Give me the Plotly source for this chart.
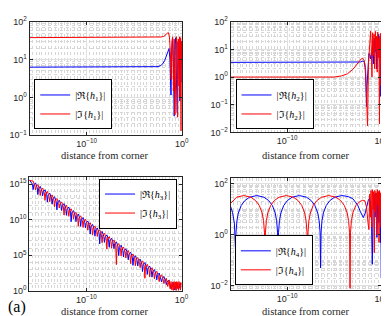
import plotly.graph_objects as go

# ---------------- data ----------------
# x values are log10(distance from corner); y values are magnitudes
h1_re_x = [-16, -3.0, -2.5, -2.2, -2.0, -1.8, -1.6, -1.45, -1.34, -1.25, -1.14, -1.05, -0.97, -0.88, -0.8,
           -0.72, -0.64, -0.56, -0.48, -0.4, -0.33, -0.26, -0.2, -0.14, -0.08, -0.03, 0]
h1_re_y = [6.3, 6.3, 6.5, 7.0, 7.8, 9.5, 13, 17, 19.5, 10, 1.15, 20, 35, 8, 0.32,
           25, 38, 3, 0.4, 30, 6, 32, 0.8, 28, 2.5, 30, 15]
h1_im_x = [-16, -3.0, -2.6, -2.2, -1.9, -1.65, -1.5, -1.42, -1.3, -1.2, -1.12, -1.04, -0.96, -0.88, -0.8,
           -0.72, -0.64, -0.56, -0.5, -0.44, -0.37, -0.3, -0.24, -0.18, -0.12, -0.08, -0.04, 0]
h1_im_y = [38, 38, 38.5, 39.5, 41, 45, 50, 52, 40, 15, 3, 30, 40, 1.5, 35,
           0.35, 28, 40, 5, 0.3, 35, 2, 40, 1, 38, 0.13, 30, 8]

h2_re_x = [-16, -2.5, -2.2, -2.0, -1.9, -1.8, -1.7, -1.62, -1.56, -1.5, -1.4, -1.3, -1.2, -1.12, -1.05,
           -0.98, -0.9, -0.82, -0.74, -0.66, -0.58, -0.5, -0.42, -0.34, -0.26, -0.18, -0.1, -0.05, 0]
h2_re_y = [3.4, 3.4, 3.5, 3.7, 3.8, 3.5, 2.2, 0.6, 0.085, 0.5, 3.5, 7, 6, 4.5, 7,
           5, 20, 3, 25, 8, 30, 2, 28, 10, 35, 5, 20, 0.2, 3]
h2_im_x = [-16, -5.0, -4.2, -3.6, -3.0, -2.6, -2.3, -2.1, -1.95, -1.8, -1.65, -1.52, -1.45, -1.35, -1.22,
           -1.12, -1.05, -0.98, -0.9, -0.83, -0.76, -0.69, -0.62, -0.55, -0.48, -0.42, -0.36, -0.3,
           -0.24, -0.18, -0.14, -0.1, -0.06, -0.02, 0]
h2_im_y = [1.0, 1.0, 1.1, 1.3, 1.9, 2.8, 3.8, 4.6, 4.8, 4.0, 1.8, 0.2, 0.017, 3, 30,
           46, 12, 1, 40, 6, 35, 2, 45, 10, 30, 1.5, 42, 5,
           25, 0.02, 30, 3, 38, 0.5, 20]

# h3: y stored as log10 of the magnitude
h3_re_x = [-16,
           -15.67, -15.6, -15.53, -15.35, -15.17, -15.1, -15.03, -14.85, -14.67, -14.6, -14.53, -14.35,
           -14.17, -14.1, -14.03, -13.85, -13.67, -13.6, -13.53, -13.35, -13.17, -13.1, -13.03, -12.85,
           -12.67, -12.6, -12.53, -12.35, -12.17, -12.1, -12.03, -11.85, -11.67, -11.6, -11.53, -11.35,
           -11.17, -11.1, -11.03, -10.85, -10.67, -10.6, -10.53, -10.35, -10.17, -10.1, -10.03, -9.85,
           -9.67, -9.6, -9.53, -9.35, -9.17, -9.1, -9.03, -8.85, -8.67, -8.6, -8.53, -8.35,
           -8.17, -8.1, -8.03, -7.85, -7.67, -7.6, -7.53, -7.35, -7.17, -7.1, -7.03, -6.85,
           -6.67, -6.6, -6.53, -6.35, -6.17, -6.1, -6.03, -5.85, -5.67, -5.6, -5.53, -5.35,
           -5.17, -5.1, -5.03, -4.85, -4.67, -4.6, -4.53, -4.35, -4.17, -4.1, -4.03, -3.85,
           -3.67, -3.6, -3.53, -3.35, -3.17, -3.1, -3.03, -2.85, -2.67, -2.6, -2.53, -2.35,
           -2.17, -2.1, -2.03, -1.85, -1.67, -1.6, -1.53, -1.35,
           -1.1, -0.9, -0.7, -0.5, -0.3, -0.15, 0]
h3_re_logy = [15.6,
              14.96, 14.21, 14.86, 15.17, 14.47, 13.52, 14.37, 14.68, 13.99, 13.34, 13.89, 14.20,
              13.50, 12.45, 13.40, 13.71, 13.01, 12.16, 12.91, 13.22, 12.52, 11.37, 12.42, 12.73,
              12.04, 11.29, 11.94, 12.25, 11.55, 10.60, 11.45, 11.76, 11.06, 9.71, 10.96, 11.27,
              10.57, 9.72, 10.47, 10.78, 10.09, 9.04, 9.99, 10.30, 9.60, 8.85, 9.50, 9.81,
              9.11, 7.96, 9.01, 9.32, 8.62, 7.67, 8.52, 8.83, 8.14, 6.59, 8.04, 8.35,
              7.65, 6.80, 7.55, 7.86, 7.16, 6.11, 7.06, 7.37, 6.67, 5.92, 6.57, 6.88,
              6.19, 4.94, 6.09, 6.40, 5.70, 4.75, 5.60, 5.91, 5.21, 4.36, 5.11, 5.42,
              4.72, 3.57, 4.62, 4.93, 4.24, 3.49, 4.14, 4.45, 3.75, 2.70, 3.65, 3.96,
              3.26, 2.31, 3.16, 3.47, 2.77, 1.92, 2.67, 2.98, 2.29, 1.54, 2.19, 2.50,
              1.80, 1.25, 1.70, 2.01, 1.31, 0.86, 1.21, 1.52,
              0.3, 1.2, 0.1, 1.1, 0.2, 1.0, 0.5]
h3_im_x = [-16, -15.6,
           -15.42, -15.35, -15.28, -15.1, -14.92, -14.85, -14.78, -14.6, -14.42, -14.35, -14.28, -14.1,
           -13.92, -13.85, -13.78, -13.6, -13.42, -13.35, -13.28, -13.1, -12.92, -12.85, -12.78, -12.6,
           -12.42, -12.35, -12.28, -12.1, -11.92, -11.85, -11.78, -11.6, -11.42, -11.35, -11.28, -11.1,
           -10.92, -10.85, -10.78, -10.6, -10.42, -10.35, -10.28, -10.1, -9.92, -9.85, -9.78, -9.6,
           -9.42, -9.35, -9.28, -9.1, -8.92, -8.85, -8.78, -8.6, -8.42, -8.35, -8.28, -8.1,
           -7.92, -7.85, -7.78, -7.6, -7.42, -7.35, -7.28, -7.1, -6.92, -6.85, -6.78, -6.6,
           -6.42, -6.35, -6.28, -6.1, -5.92, -5.85, -5.78, -5.6, -5.42, -5.35, -5.28, -5.1,
           -4.92, -4.85, -4.78, -4.6, -4.42, -4.35, -4.28, -4.1, -3.92, -3.85, -3.78, -3.6,
           -3.42, -3.35, -3.28, -3.1, -2.92, -2.85, -2.78, -2.6, -2.42, -2.35, -2.28, -2.1,
           -1.92, -1.85, -1.78, -1.6,
           -1.45, -1.3, -1.2, -1.1, -1.0, -0.92, -0.85, -0.78, -0.7, -0.63, -0.56, -0.5, -0.44,
           -0.38, -0.32, -0.26, -0.2, -0.15, -0.1, -0.06, -0.02, 0]
h3_im_logy = [15.5, 15.41,
              14.72, 14.17, 14.62, 14.93, 14.23, 13.38, 14.13, 14.44, 13.75, 12.70, 13.65, 13.96,
              13.26, 12.51, 13.16, 13.47, 12.77, 11.82, 12.67, 12.98, 12.28, 11.63, 12.18, 12.49,
              11.80, 10.65, 11.70, 12.01, 11.31, 10.46, 11.21, 11.52, 10.82, 10.07, 10.72, 11.03,
              10.33, 9.08, 10.23, 10.54, 9.85, 8.90, 9.75, 10.06, 9.36, 8.51, 9.26, 9.57,
              8.87, 7.82, 8.77, 9.08, 8.38, 7.63, 8.28, 8.59, 7.90, 6.75, 7.80, 8.11,
              7.41, 5.86, 7.31, 7.62, 6.92, 5.97, 6.82, 7.13, 6.43, 3.68, 6.33, 6.64,
              5.95, 4.90, 5.85, 6.16, 5.46, 4.61, 5.36, 5.67, 4.97, 3.82, 4.87, 5.18,
              4.48, 3.53, 4.38, 4.69, 4.00, 3.25, 3.90, 4.21, 3.51, 1.76, 3.41, 3.72,
              3.02, 1.97, 2.92, 3.23, 2.53, 1.68, 2.43, 2.74, 2.05, 1.30, 1.95, 2.26,
              1.56, 1.01, 1.46, 1.77,
              0.6, 1.5, 0.3, 1.3, 0.1, 1.2, 0.05, 1.3, 0.2, 1.25, 0.02, 1.3, 0.3,
              1.2, 0.05, 1.3, 0.4, 1.1, 0.1, 1.2, 0.3, 0.8]

h4_re_x = [-16, -15.8, -15.6, -15.53, -15.48, -15.43, -15.33, -15.18, -14.88, -14.48, -13.98, -13.22,
           -12.46, -11.96, -11.56, -11.26, -11.11, -11.01, -10.96, -10.91, -10.81, -10.66, -10.36, -9.96,
           -9.46, -8.70, -7.94, -7.44, -7.04, -6.74, -6.59, -6.49, -6.44, -6.39, -6.29, -6.14, -5.84,
           -5.44, -4.94, -4.18, -3.5, -3.0, -2.5, -2.2, -1.9, -1.7, -1.5, -1.35, -1.2, -1.05, -0.94,
           -0.85, -0.75, -0.65, -0.55, -0.45, -0.35, -0.25, -0.15, -0.08, -0.03, 0]
h4_re_y = [13, 7.7, 2.9, 1.2, 0.25, 1.2, 3.6, 7.2, 14.2, 22.4, 30.2, 35,
           30.2, 22.4, 14.2, 7.2, 3.6, 1.2, 0.18, 1.2, 3.6, 7.2, 14.2, 22.4,
           30.2, 35, 30.2, 22.4, 14.2, 7.2, 3.6, 1.2, 0.05, 1.2, 3.6, 7.2, 14.2,
           22.4, 30.2, 35, 32, 26, 15, 8, 4.8, 7, 15, 24, 28, 8, 0.07,
           20, 40, 5, 45, 0.8, 50, 3, 40, 0.5, 30, 0.02]
h4_im_x = [-16, -15.37, -14.61, -13.85, -13.35, -12.95, -12.65, -12.5, -12.4, -12.35, -12.3, -12.2,
           -12.05, -11.75, -11.35, -10.85, -10.09, -9.33, -8.83, -8.43, -8.13, -7.98, -7.88, -7.83,
           -7.78, -7.68, -7.53, -7.23, -6.83, -6.33, -5.57, -4.81, -4.31, -3.91, -3.61, -3.46, -3.36,
           -3.31, -3.26, -3.16, -3.0, -2.7, -2.3, -1.95, -1.74, -1.55, -1.4, -1.3, -1.22, -1.15, -1.08,
           -1.0, -0.93, -0.86, -0.8, -0.73, -0.67, -0.6, -0.54, -0.47, -0.41, -0.35, -0.29, -0.23,
           -0.17, -0.11, -0.06, -0.02, 0]
h4_im_y = [17, 30.2, 35, 30.2, 22.4, 14.2, 7.2, 3.6, 1.2, 0.19, 1.2, 3.6,
           7.2, 14.2, 22.4, 30.2, 35, 30.2, 22.4, 14.2, 7.2, 3.6, 1.2, 0.19,
           1.2, 3.6, 7.2, 14.2, 22.4, 30.2, 35, 30.2, 22.4, 14.2, 7.2, 3.6, 1.2,
           0.008, 1.2, 3.6, 7.5, 14, 20, 23, 22, 12, 3, 1.6, 40, 5, 55,
           2, 60, 10, 50, 0.2, 55, 8, 45, 1, 60, 15, 50, 0.5,
           55, 10, 45, 2, 30]

x_tickvals = [1e-10, 1]
x_ticktext = ["10<sup>\u221210</sup>", "10<sup>0</sup>"]
y1_tickvals = [0.1, 1, 10, 100]
y1_ticktext = ["10<sup>\u22121</sup>", "10<sup>0</sup>", "10<sup>1</sup>", "10<sup>2</sup>"]
y2_tickvals = [0.01, 0.1, 1, 10, 100]
y2_ticktext = ["10<sup>\u22122</sup>", "10<sup>\u22121</sup>", "10<sup>0</sup>", "10<sup>1</sup>", "10<sup>2</sup>"]
y3_tickvals = [1, 1e5, 1e10, 1e15]
y3_ticktext = ["10<sup>0</sup>", "10<sup>5</sup>", "10<sup>10</sup>", "10<sup>15</sup>"]
y4_tickvals = [0.01, 1, 100]
y4_ticktext = ["10<sup>\u22122</sup>", "10<sup>0</sup>", "10<sup>2</sup>"]

xlabel = "distance from corner"
panel_label = "(a)"

BLUE = "#0000ff"
RED = "#ff0000"
AX = "#262626"
MINOR = "#d6d6d6"
SERIF = "Liberation Serif, DejaVu Serif, serif"
SANS = "Liberation Sans, Arial, sans-serif"


def p10(v):
    return [10 ** a for a in v]


def minor_vals(lo, hi, majors, mults):
    out = []
    for e in range(lo, hi):
        for m in mults:
            v = m * 10.0 ** e
            if all(abs(v - t) > 1e-9 * t for t in majors):
                out.append(v)
    return out


def leg(k, part):
    sym = "\u211c" if part == "re" else "\u2111"
    return "|" + sym + "{<i>h</i><sub>%d</sub>}|" % k


fig = go.Figure()
series = [
    (1, h1_re_x, h1_re_y, h1_im_x, h1_im_y),
    (2, h2_re_x, h2_re_y, h2_im_x, h2_im_y),
    (3, h3_re_x, p10(h3_re_logy), h3_im_x, p10(h3_im_logy)),
    (4, h4_re_x, h4_re_y, h4_im_x, h4_im_y),
]
for k, rx, ry, ix, iy in series:
    xa = "x" if k == 1 else "x%d" % k
    ya = "y" if k == 1 else "y%d" % k
    lg = "legend" if k == 1 else "legend%d" % k
    fig.add_trace(go.Scatter(x=p10(rx), y=ry, mode="lines", line=dict(color=BLUE, width=1),
                             name=leg(k, "re"), xaxis=xa, yaxis=ya, legend=lg))
    fig.add_trace(go.Scatter(x=p10(ix), y=iy, mode="lines", line=dict(color=RED, width=1),
                             name=leg(k, "im"), xaxis=xa, yaxis=ya, legend=lg))

W, H = 389, 316


def px(a, b):
    return [a / W, b / W]


def py(top, bot):
    return [1 - bot / H, 1 - top / H]


common = dict(type="log", showline=True, linecolor=AX, linewidth=1, mirror="ticks",
              ticks="inside", ticklen=3, tickcolor=AX, showgrid=True, gridcolor="#e0e0e0",
              gridwidth=1, zeroline=False, tickfont=dict(family=SANS, size=9, color=AX),
              tickmode="array")

x_minor = minor_vals(-16, 0, x_tickvals, [1, 2, 5])
doms = {
    1: (px(22, 177), py(7, 125), [-1, 2], y1_tickvals, y1_ticktext,
        minor_vals(-1, 2, y1_tickvals, range(2, 10))),
    2: (px(226.7, 380), py(7, 122), [-2, 2], y2_tickvals, y2_ticktext,
        minor_vals(-2, 2, y2_tickvals, range(2, 10))),
    3: (px(21.7, 176.7), py(168.3, 286.7), [0, 16], y3_tickvals, y3_ticktext,
        minor_vals(0, 16, y3_tickvals, [1])),
    4: (px(226.7, 380), py(169, 286), [-2.17, 2.25], y4_tickvals, y4_ticktext,
        minor_vals(-3, 3, y4_tickvals, range(1, 10))),
}
layout = dict(width=W, height=H, margin=dict(l=0, r=0, t=0, b=0), paper_bgcolor="white",
              plot_bgcolor="white", showlegend=True)
for k, (xd, yd, yr, ytv, ytt, ymin) in doms.items():
    xs = "xaxis" if k == 1 else "xaxis%d" % k
    ys = "yaxis" if k == 1 else "yaxis%d" % k
    anc_x = "y" if k == 1 else "y%d" % k
    anc_y = "x" if k == 1 else "x%d" % k
    layout[xs] = dict(common, domain=xd, anchor=anc_x, range=[-16, 0], tickvals=x_tickvals,
                      ticktext=x_ticktext,
                      minor=dict(tickmode="array", tickvals=x_minor, showgrid=True, griddash="dot",
                                 gridcolor=MINOR, gridwidth=1, ticks=""))
    layout[ys] = dict(common, domain=yd, anchor=anc_y, range=yr, tickvals=ytv, ticktext=ytt,
                      minor=dict(tickmode="array", tickvals=ymin, showgrid=True, griddash="dot",
                                 gridcolor=MINOR, gridwidth=1, ticks=""))

legpos = {1: (26.7, 119, "bottom"), 2: (231.7, 119, "bottom"), 3: (92.7, 170, "top"),
          4: (231, 281, "bottom")}
for k, (lx, ly, anc) in legpos.items():
    key = "legend" if k == 1 else "legend%d" % k
    layout[key] = dict(x=lx / W, y=1 - ly / H, xanchor="left", yanchor=anc,
                       bgcolor="white", bordercolor="black", borderwidth=1,
                       font=dict(family=SERIF, size=10, color="black"),
                       tracegroupgap=0, itemwidth=30)

fig.update_layout(**layout)

ann = [(98.3, 146), (303.3, 146), (98.3, 308), (303.3, 308)]
for ax_, ay_ in ann:
    fig.add_annotation(x=ax_ / W, y=1 - ay_ / H, xref="paper", yref="paper", text=xlabel,
                       showarrow=False, font=dict(family=SERIF, size=10.5, color=AX),
                       xanchor="center", yanchor="middle")
fig.add_annotation(x=9 / W, y=1 - 303.5 / H, xref="paper", yref="paper", text=panel_label,
                   showarrow=False, font=dict(family=SERIF, size=16, color="black"),
                   xanchor="center", yanchor="middle")

fig.write_html("out.html")
